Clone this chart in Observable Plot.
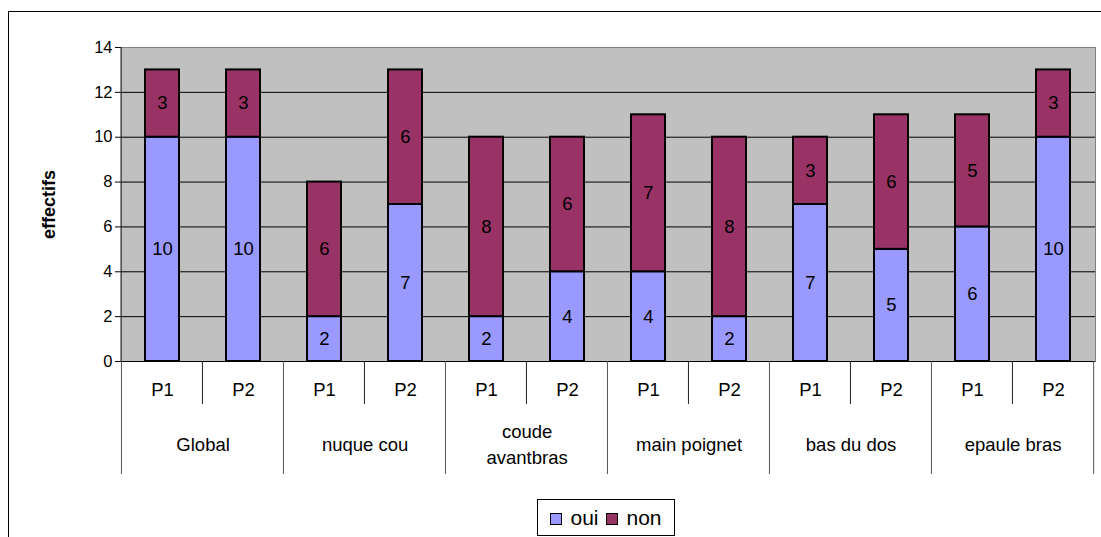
<!DOCTYPE html>
<html>
<head>
<meta charset="utf-8">
<script src="https://cdn.jsdelivr.net/npm/d3@7"></script>
<script src="https://cdn.jsdelivr.net/npm/@observablehq/plot@0.6"></script>
<style>
  html, body { margin: 0; padding: 0; background: #fff; overflow: hidden; width: 1101px; height: 537px; }
  #chart { position: absolute; left: 0; top: 0; }
  #outer { position: absolute; left: 8px; top: 11px; width: 1200px; height: 700px; border: 1px solid #000; box-sizing: border-box; }
  #legend { position: absolute; left: 537px; top: 499px; width: 138px; height: 37px; box-sizing: border-box;
            border: 1px solid #000; background: #fff; font: 21px "Liberation Sans", Arial, sans-serif;
            display: flex; align-items: center; justify-content: center; gap: 8px; line-height: 1; }
  #legend .sw { display: inline-block; width: 10px; height: 10px; border: 1.5px solid #000; margin-right: 8px; vertical-align: 0px; }
</style>
</head>
<body>
<div id="outer"></div>
<div id="chart"></div>
<div id="legend"></div>
<script>
const groups = ["Global", "nuque cou", "coude avantbras", "main poignet", "bas du dos", "epaule bras"];
const periods = ["P1", "P2"];
const series = ["oui", "non"];
const oui = [10, 10, 2, 7, 2, 4, 4, 2, 7, 5, 6, 10];
const non = [3, 3, 6, 6, 8, 6, 7, 8, 3, 6, 5, 3];
const yTicks = [0, 2, 4, 6, 8, 10, 12, 14];
const colors = ["#9999ff", "#993366"];

const keys = [];
groups.forEach(g => periods.forEach(p => keys.push(g + "|" + p)));
const rows = [];
keys.forEach((k, i) => {
  const [g, p] = k.split("|");
  rows.push({key: k, group: g, period: p, series: "oui", value: oui[i]});
});
keys.forEach((k, i) => {
  const [g, p] = k.split("|");
  rows.push({key: k, group: g, period: p, series: "non", value: non[i]});
});
const periodRows = keys.map(k => ({key: k, period: k.split("|")[1]}));
const groupRows = groups.map(g => ({key: g + "|P1", group: g}));

const W = 1101, H = 490, ML = 121, MR = 6, MT = 47, MB = H - 361;
const PAD = 0.58;
const step = (W - ML - MR) / keys.length;
const FONT = "Liberation Sans, Arial, sans-serif";
const FS = 18.5;

function decorations(index, scales, values, dims) {
  const x = scales.x;
  const bw = step * (1 - PAD);
  const y0 = dims.height - dims.marginBottom;
  const g = d3.create("svg:g");
  keys.forEach((k, i) => {
    const left = x(k) + bw / 2 - step / 2;
    const long = i % 2 === 0;
    g.append("line").attr("x1", left).attr("x2", left).attr("y1", y0).attr("y2", y0 + (long ? 113 : 43))
      .attr("stroke", long ? "#555" : "#222").attr("stroke-width", 1);
  });
  const right = x(keys[keys.length - 1]) + bw / 2 + step / 2;
  g.append("line").attr("x1", right).attr("x2", right).attr("y1", y0).attr("y2", y0 + 113)
    .attr("stroke", "#555");
  g.append("line").attr("x1", dims.marginLeft).attr("x2", dims.marginLeft)
    .attr("y1", dims.marginTop).attr("y2", y0).attr("stroke", "#222");
  return g.node();
}

const chart = Plot.plot({
  width: W,
  height: H,
  marginLeft: ML,
  marginRight: MR,
  marginTop: MT,
  marginBottom: MB,
  style: {fontFamily: FONT, fontSize: FS + "px", background: "transparent", overflow: "visible"},
  x: {type: "band", domain: keys, paddingInner: PAD, paddingOuter: PAD / 2, axis: null},
  y: {domain: [0, 14], ticks: yTicks, axis: null},
  color: {domain: series, range: colors},
  marks: [
    Plot.frame({fill: "#c0c0c0", stroke: "#808080"}),
    Plot.ruleY(yTicks.filter(d => d > 0 && d < 14), {stroke: "#000", strokeWidth: 1}),
    Plot.ruleY([0], {stroke: "#000", strokeWidth: 1.2}),
    Plot.barY(rows, Plot.stackY({x: "key", y: "value", fill: "series", stroke: "#000", strokeWidth: 2})),
    Plot.text(rows, Plot.stackY({x: "key", y: "value", z: "series", text: d => String(d.value), fill: "#000", fontSize: FS})),
    Plot.axisY({ticks: yTicks, tickSize: 6, tickPadding: 3, fontSize: 16.5, label: null, stroke: "#000"}),
    Plot.text(["effectifs"], {frameAnchor: "left", textAnchor: "middle", dx: -72, rotate: -90, fontWeight: "bold", fontSize: 18, fill: "#000"}),
    Plot.text(periodRows, {x: "key", text: "period", frameAnchor: "bottom", lineAnchor: "middle", dy: 29, fontSize: FS, fill: "#000"}),
    Plot.text(groupRows, {x: "key", text: "group", frameAnchor: "bottom", dx: step / 2, dy: 81, lineAnchor: "middle",
      lineWidth: 6.5, lineHeight: 1.4, fontSize: FS, fill: "#000"}),
    decorations
  ]
});
document.getElementById("chart").appendChild(chart);

const legend = document.getElementById("legend");
series.forEach((s, i) => {
  const item = document.createElement("span");
  const sw = document.createElement("span");
  sw.className = "sw";
  sw.style.background = colors[i];
  item.appendChild(sw);
  item.appendChild(document.createTextNode(s));
  legend.appendChild(item);
});
</script>
</body>
</html>
